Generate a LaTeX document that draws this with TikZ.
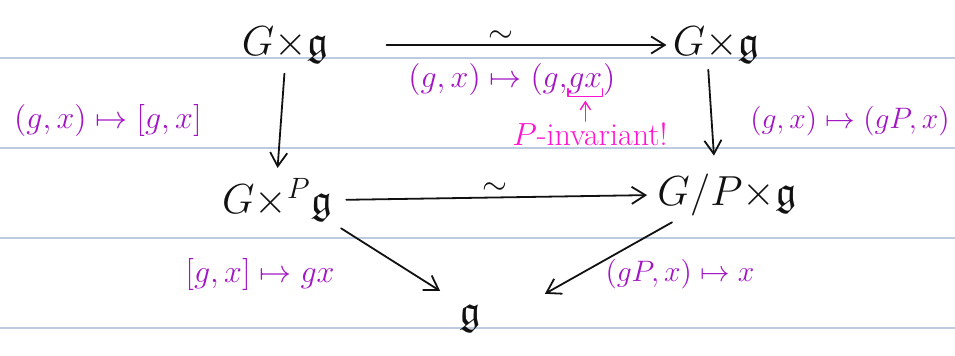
\RequirePackage{fix-cm}
\documentclass[tikz,border=0pt]{standalone}
\usepackage{amsmath,amssymb}
\usepackage{xcolor}
\usetikzlibrary{
  arrows.meta,
  positioning,
}
\definecolor{ruleblue}{HTML}{BCCBDF}
\definecolor{mappurple}{HTML}{A214C4}
\definecolor{notepink}{HTML}{FF14D2}
\definecolor{ink}{HTML}{111111}
\tikzset{
  sheet/.style={
    x=0.5pt, y=-0.5pt,
    line join=round,
    line cap=round,
  },
  ruling/.style={
    draw=ruleblue,
    line width=0.6pt,
  },
  obj/.style={
    font=\fontsize{21}{25}\selectfont,
    text=ink,
    inner sep=1pt,
  },
  maplab/.style={
    font=\fontsize{16}{19}\selectfont,
    text=mappurple,
    inner sep=0pt,
  },
  maplabsm/.style={
    maplab,
    font=\fontsize{14.8}{18}\selectfont,
  },
  note/.style={
    font=\fontsize{16}{19}\selectfont,
    text=notepink,
    inner sep=0.5pt,
  },
  arr/.style={
    -{Straight Barb[length=2.4mm, width=3mm]},
    line width=0.9pt,
    draw=ink,
  },
  iso/.style={
    font=\fontsize{16}{19}\selectfont,
    text=ink,
    inner sep=1pt,
  },
  pinkarr/.style={
    -{Straight Barb[length=1.4mm, width=1.8mm]},
    line width=0.7pt,
    draw=notepink,
  },
}

\begin{document}
\begin{tikzpicture}[sheet]
  \useasboundingbox (0,0) rectangle (955,356);

  % lined paper
  \foreach \y in {58,148,238,328} {
    \draw[ruling] (0,\y) -- (955,\y);
  }

  % objects
  \node[obj] (tl) at (285,45) {$G{\times}\mathfrak{g}$};
  \node[obj] (tr) at (716,45) {$G{\times}\mathfrak{g}$};
  \node[obj] (ml) at (277,200) {$G{\times}^{P}\mathfrak{g}$};
  \node[obj] (mr) at (727,195) {$G/P{\times}\mathfrak{g}$};
  \node[obj] (bt) at (470,318) {$\mathfrak{g}$};

  % maps
  \draw[arr, shorten <=28pt, shorten >=2pt] (tl.east) -- (tr.west)
    node[iso, midway, above=0pt] (isotop) {$\sim$};
  \draw[arr, shorten <=6pt, shorten >=4pt] (ml.east) -- (mr.west)
    node[iso, midway, above=0pt] (isomid) {$\sim$};
  \draw[arr, shorten <=4pt, shorten >=4pt] (tl.south) -- (ml.north);
  \draw[arr, shorten <=2pt, shorten >=8pt] ([xshift=-4pt]tr.south) -- ([xshift=-6pt]mr.north);
  \draw[arr, shorten <=4pt, shorten >=10pt] (ml.south east) -- (bt.north west);
  \draw[arr, shorten <=4pt, shorten >=8pt] ([xshift=-24pt]mr.south) -- ([xshift=24pt]bt.north east);

  % labels
  \node[maplab] (lleft) at (108,121) {$(g,x)\mapsto[g,x]$};
  \node[maplabsm] (lright) at (850,121) {$(g,x)\mapsto(gP,x)$};
  \node[maplab] (lbl) at (260,275) {$[g,x]\mapsto gx$};
  \node[maplabsm] (lbr) at (680,274) {$(gP,x)\mapsto x$};

  \node[maplab, anchor=base west] (ltop) at (408,88) {$(g,x)\mapsto(g,$};
  \node[maplab, anchor=base west] (gx) at (ltop.base east) {$gx$};
  \node[maplab, anchor=base west] (ltopend) at (gx.base east) {$)$};

  % remark
  \node[note] (inv) at (590,134) {$P$-invariant!};
  \draw[notepink, line width=0.7pt]
    ([yshift=3pt]gx.south west) -- ([yshift=-1pt]gx.south west)
    -- ([yshift=-1pt]gx.south east) -- ([yshift=3pt]gx.south east);
  \draw[pinkarr] (inv.north -| gx.south) -- ([yshift=-3pt]gx.south);
\end{tikzpicture}
\end{document}
